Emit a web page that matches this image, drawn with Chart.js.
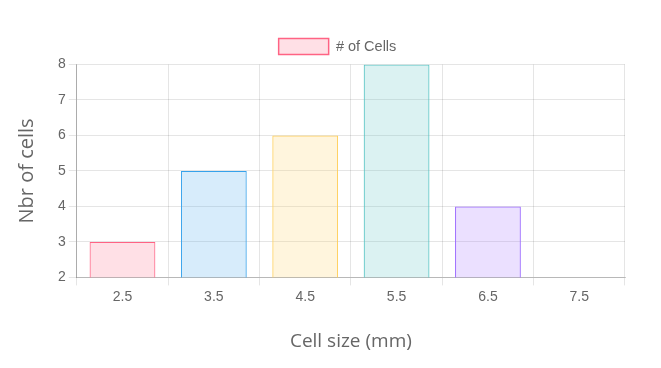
<!DOCTYPE html>
<html>
<head>
<meta charset="utf-8">
<script src="https://cdn.jsdelivr.net/npm/chart.js@4"></script>
<style>
html,body{margin:0;padding:0;background:#fff;}
#wrap{width:661px;height:368px;}
</style>
</head>
<body>
<div id="wrap"><canvas id="c" width="661" height="368"></canvas></div>
<script>
const categories = ['2.5', '3.5', '4.5', '5.5', '6.5', '7.5'];
const cellCounts = [3, 5, 6, 8, 4, 0];
const seriesLabel = '# of Cells';
const fillColors = ['rgba(255, 99, 132, 0.2)','rgba(54, 162, 235, 0.2)','rgba(255, 206, 86, 0.2)','rgba(75, 192, 192, 0.2)','rgba(153, 102, 255, 0.2)','rgba(255, 159, 64, 0.2)'];
const lineColors = ['rgba(255, 99, 132, 1)','rgba(54, 162, 235, 1)','rgba(255, 206, 86, 1)','rgba(75, 192, 192, 1)','rgba(153, 102, 255, 1)','rgba(255, 159, 64, 1)'];

Chart.defaults.font.family = "'Liberation Sans', Arial, sans-serif";
Chart.defaults.font.size = 14;
Chart.defaults.color = '#666';

new Chart(document.getElementById('c'), {
  type: 'bar',
  data: {
    labels: categories,
    datasets: [{
      label: seriesLabel,
      data: cellCounts,
      backgroundColor: fillColors,
      borderColor: lineColors,
      borderWidth: 1
    }]
  },
  options: {
    responsive: false,
    animation: false,
    layout: { padding: { left: 15, right: 1, top: 19, bottom: 15 } },
    plugins: {
      legend: {
        labels: {
          boxWidth: 50, boxHeight: 16, padding: 19.5, font: { size: 14.5 },
          generateLabels: function (chart) {
            const items = Chart.defaults.plugins.legend.labels.generateLabels(chart);
            items.forEach(function (it) { it.lineWidth = 1.5; });
            return items;
          }
        }
      },
      tooltip: { enabled: false }
    },
    scales: {
      x: {
        grid: { color: 'rgba(0,0,0,0.1)' },
        border: { color: 'rgba(0,0,0,0.2)' },
        ticks: { font: { size: 14 } },
        title: { display: true, text: 'Cell size (mm)', font: { family: "'Open Sans', sans-serif", size: 19 }, color: '#666', padding: { top: 22, bottom: 0 } }
      },
      y: {
        min: 2, max: 8,
        grid: { color: 'rgba(0,0,0,0.1)' },
        border: { color: 'rgba(0,0,0,0.25)' },
        ticks: { stepSize: 1, font: { size: 14 } },
        title: { display: true, text: 'Nbr of cells', font: { family: "'Open Sans', sans-serif", size: 20 }, color: '#666', padding: { top: 0, bottom: 16 } }
      },
      yRight: {
        position: 'right',
        display: true,
        grid: { display: false },
        border: { display: false },
        ticks: { display: false },
        afterFit: function (scale) { scale.width = 35; }
      }
    }
  }
});
</script>
</body>
</html>
